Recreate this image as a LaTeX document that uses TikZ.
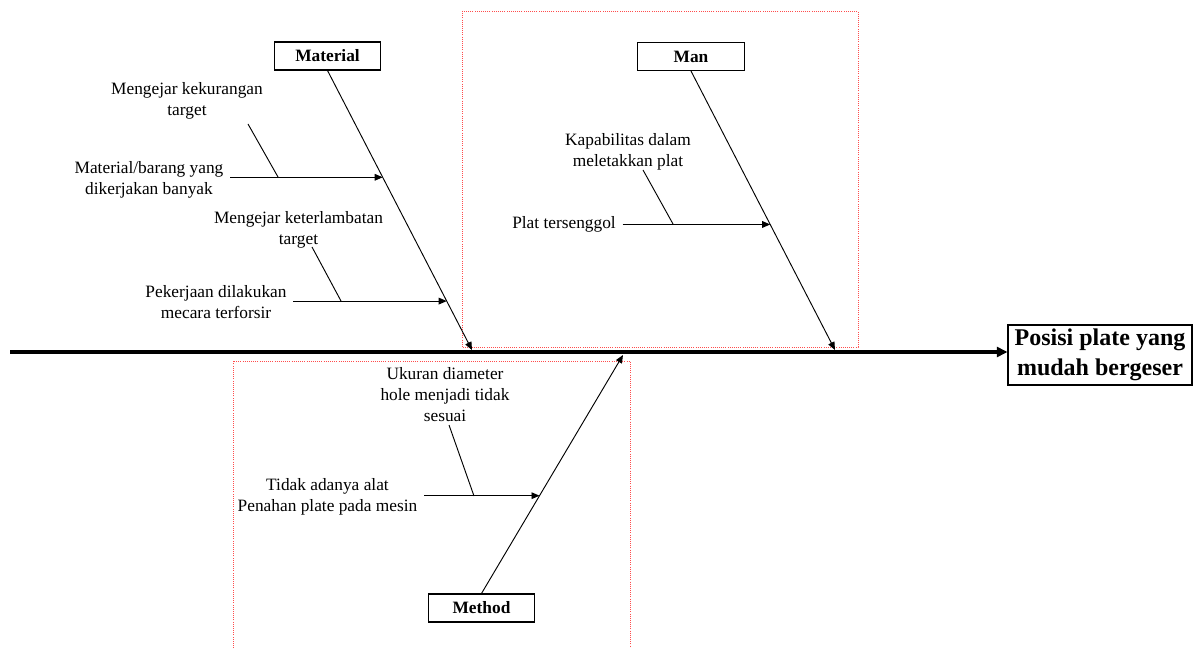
\documentclass[tikz,border=0pt]{standalone}
\usepackage{fontspec}
\setmainfont{Liberation Serif}
\usetikzlibrary{arrows.meta,calc}

\begin{document}
\begin{tikzpicture}[x=0.75pt,y=-0.75pt,
    >={Triangle[length=6pt,width=5pt]},
    cat/.style={draw, line width=0.8pt, minimum width=80pt, minimum height=21pt, inner sep=0pt, font=\fontsize{13}{15}\selectfont\bfseries},
    cause/.style={align=center, inner sep=5pt, font=\fontsize{13}{15.75}\selectfont},
    bone/.style={line width=0.7pt},
    zone/.style={red!70, densely dotted, line width=0.6pt}]
    \useasboundingbox (0,0) rectangle (1193,648);
    % zones
    \draw[zone] (462,11) rectangle (858,347);
    \draw[zone] (233,648) -- (233,361) -- (630,361) -- (630,648);
    % head and spine
    \node[draw, line width=0.8pt, align=center, inner sep=3pt, minimum width=138pt, font=\fontsize{18}{22.5}\selectfont\bfseries] (head) at (1100,355) {Posisi plate yang\\mudah bergeser};
    \coordinate (tail) at (10,352);
    \draw[line width=2.4pt, -{Triangle[length=8pt,width=7.5pt]}] (tail) -- (tail -| head.west);
    % main bones
    \node[cat] (mat) at (327.5,56) {Material};
    \node[cat] (man) at (691,56.5) {Man};
    \node[cat] (met) at (481.5,608) {Method};
    \coordinate (matEnd) at (472,350);
    \coordinate (manEnd) at (835,350);
    \coordinate (metEnd) at (623,355);
    \draw[bone,->] (mat.south) -- (matEnd);
    \draw[bone,->] (man.south) -- (manEnd);
    \draw[bone,->] (met.north) -- (metEnd);
    % material causes
    \coordinate (m1) at ($(mat.south)!0.382!(matEnd)$);
    \coordinate (m2) at ($(mat.south)!0.825!(matEnd)$);
    \node[cause] (m1a) at (187,101) {Mengejar kekurangan\\target};
    \node[cause] (m1b) at (149,180) {Material/barang yang\\dikerjakan banyak};
    \node[cause] (m2a) at (298.5,230) {Mengejar keterlambatan\\target};
    \node[cause] (m2b) at (216,302) {Pekerjaan dilakukan\\mecara terforsir};
    \draw[bone,->] (m1b.east |- m1) -- (m1);
    \draw[bone,->] (m2b.east |- m2) -- (m2);
    \coordinate (m1t) at (248,124);
    \coordinate (m1f) at (278,177);
    \coordinate (m2t) at (312,247);
    \coordinate (m2f) at (341,301);
    \draw[bone] (m1t) -- (m1f);
    \draw[bone] (m2t) -- (m2f);
    % man causes
    \coordinate (n1) at ($(man.south)!0.55!(manEnd)$);
    \node[cause] (n1a) at (628,152) {Kapabilitas dalam\\meletakkan plat};
    \node[cause] (n1b) at (564,224) {Plat tersenggol};
    \draw[bone,->] (n1b.east |- n1) -- (n1);
    \coordinate (n1t) at (643,170);
    \coordinate (n1f) at (673,224);
    \draw[bone] (n1t) -- (n1f);
    % method causes
    \coordinate (k1) at ($(met.north)!0.41!(metEnd)$);
    \node[cause] (k1a) at (445,395) {Ukuran diameter\\hole menjadi tidak\\sesuai};
    \node[cause] (k1b) at (327.5,497) {Tidak adanya alat\\Penahan plate pada mesin};
    \draw[bone,->] (k1b.east |- k1) -- (k1);
    \coordinate (k1t) at (449,425);
    \coordinate (k1f) at (474,496);
    \draw[bone] (k1t) -- (k1f);
\end{tikzpicture}
\end{document}
